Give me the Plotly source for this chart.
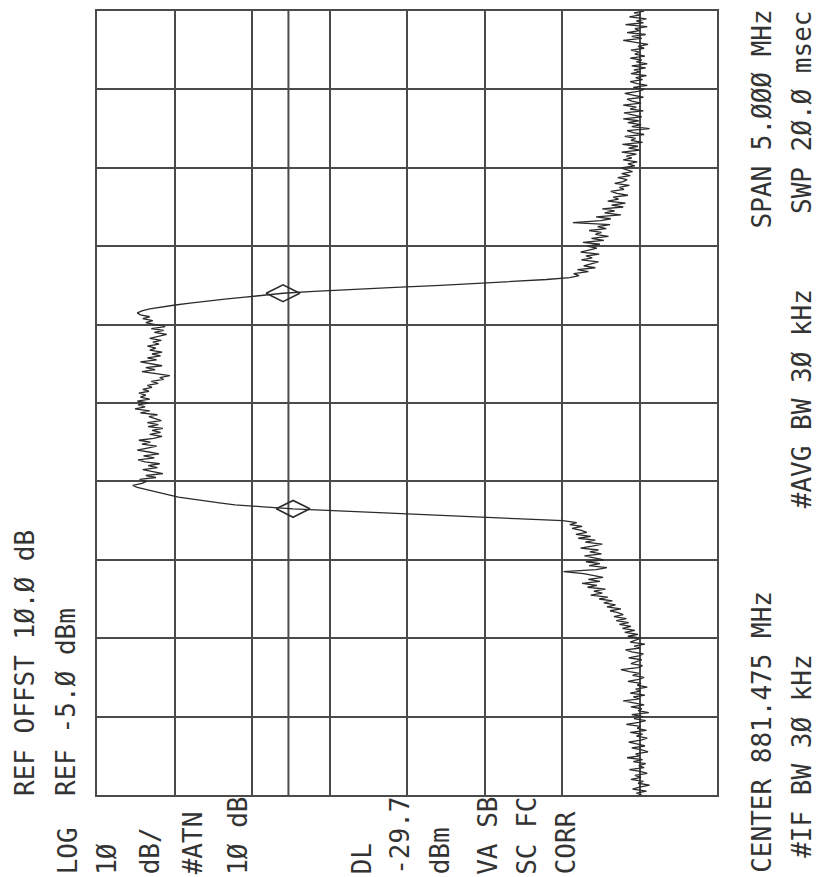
import plotly.graph_objects as go

# Spectrum analyser settings
center_mhz = 881.475
span_mhz = 5.0
ref_dbm = -5.0
db_per_div = 10.0
n_div_amp = 8
display_line_dbm = -29.7

# Trace: 401 amplitude samples (dBm) across the span, low to high frequency
amplitude_dbm = [
    -75.3, -74.6, -75.9, -74.1, -75.0, -76.3, -74.8, -75.5, -73.9, -75.2,
    -74.4, -76.0, -75.1, -73.7, -75.6, -74.9, -75.8, -74.2, -75.4, -73.4,
    -75.0, -74.5, -76.1, -75.3, -74.0, -75.7, -74.8, -73.6, -75.2, -76.0,
    -74.6, -75.4, -73.8, -75.9, -74.7, -75.1, -73.3, -74.9, -75.8, -74.3,
    -75.5, -74.0, -76.2, -74.8, -75.3, -73.9, -75.6, -74.4, -72.9, -75.0,
    -74.2, -75.7, -73.8, -75.1, -74.5, -76.0, -74.7, -75.2, -73.5, -74.9,
    -75.6, -74.1, -75.0, -73.7, -72.6, -74.8, -75.4, -73.9, -74.6, -75.3,
    -73.6, -74.9, -75.5, -74.0, -73.2, -75.1, -74.3, -75.7, -73.8, -74.5,
    -75.2, -73.5, -74.8, -73.1, -74.4, -72.8, -73.9, -72.4, -73.6, -72.0,
    -73.3, -71.7, -72.9, -72.2, -71.2, -72.6, -70.8, -71.9, -70.4, -71.5,
    -69.8, -70.9, -68.7, -70.2, -69.1, -70.6, -68.3, -69.5, -67.6, -69.9,
    -68.4, -70.3, -68.9, -67.8, -65.2, -69.4, -70.8, -68.5, -69.9, -68.1,
    -70.4, -69.0, -67.9, -70.1, -68.6, -69.7, -67.4, -68.9, -70.2, -68.0,
    -69.3, -67.1, -68.7, -66.8, -68.2, -67.5, -66.3, -67.6, -66.0, -66.9,
    -65.1, -59.0, -53.1, -48.0, -42.8, -36.5, -30.3, -26.5, -22.8, -20.8,
    -18.9, -17.1, -15.5, -14.4, -13.4, -12.2, -11.2, -10.2, -9.6, -10.8,
    -11.4, -10.5, -12.6, -11.3, -13.5, -12.0, -10.9, -12.8, -11.6, -13.1,
    -11.2, -10.3, -12.4, -11.0, -13.0, -11.7, -10.2, -11.5, -12.7, -10.8,
    -11.9, -10.4, -12.3, -13.4, -11.8, -13.2, -12.1, -13.5, -11.6, -12.9,
    -11.5, -13.3, -12.4, -11.7, -12.8, -10.6, -11.8, -9.9, -11.2, -10.3,
    -11.6, -10.2, -11.8, -10.6, -11.3, -10.4, -11.7, -10.9, -12.1, -11.5,
    -12.9, -12.0, -13.6, -13.1, -14.4, -12.2, -10.8, -12.5, -11.3, -13.4,
    -12.0, -10.6, -12.7, -11.5, -13.2, -12.1, -13.4, -11.8, -12.6, -11.5,
    -13.0, -12.2, -13.3, -11.8, -12.9, -14.0, -12.4, -13.6, -12.0, -13.8,
    -12.5, -11.3, -12.2, -10.9, -11.8, -10.6, -10.2, -10.8, -11.8, -13.2,
    -15.1, -17.0, -18.9, -21.5, -24.1, -26.5, -29.0, -33.0, -37.6, -43.5,
    -49.3, -54.5, -59.6, -63.0, -66.0, -67.2, -66.5, -68.4, -67.0, -69.3,
    -67.8, -68.6, -69.7, -67.5, -68.9, -68.1, -69.8, -67.4, -68.7, -69.5,
    -68.2, -69.9, -67.7, -70.4, -68.8, -71.0, -69.3, -70.1, -68.5, -70.7,
    -69.6, -71.2, -66.4, -70.0, -71.3, -69.4, -72.6, -70.5, -71.8, -70.2,
    -72.9, -71.4, -73.2, -70.9, -72.3, -71.6, -73.5, -72.1, -71.3, -73.0,
    -72.4, -73.7, -71.8, -72.9, -73.4, -72.2, -73.8, -72.7, -74.1, -73.2,
    -72.6, -74.4, -73.5, -74.7, -72.9, -74.0, -73.3, -74.6, -72.7, -75.1,
    -73.6, -74.8, -72.8, -75.4, -73.9, -74.5, -73.1, -75.6, -74.2, -73.4,
    -76.3, -74.0, -75.2, -73.5, -74.9, -72.9, -75.3, -74.1, -73.0, -75.5,
    -73.8, -74.6, -72.9, -75.2, -74.0, -73.4, -75.5, -74.3, -73.1, -74.8,
    -75.6, -74.2, -76.0, -74.7, -73.8, -75.4, -74.5, -75.9, -73.9, -75.1,
    -74.3, -75.8, -74.0, -76.0, -74.6, -75.3, -73.8, -75.7, -74.4, -75.0,
    -73.9, -75.6, -74.8, -76.1, -74.2, -72.9, -75.3, -74.0, -75.8, -73.4,
    -75.0, -74.4, -76.0, -73.2, -75.5, -74.6, -75.9, -73.7, -75.1, -74.3,
    -75.6,
]

# Marker positions (sample indices) on the channel edges
marker_idx = [146, 256]

f_start = center_mhz - span_mhz / 2
f_stop = center_mhz + span_mhz / 2
n_pts = len(amplitude_dbm)
freq_mhz = [f_start + i * span_mhz / (n_pts - 1) for i in range(n_pts)]
bottom_dbm = ref_dbm - n_div_amp * db_per_div

ink = "#2b2b2b"
grid = "#4a4a4a"
font = dict(family="DejaVu Sans Mono", size=26, color="#333333")

fig = go.Figure()

# Display line
fig.add_shape(type="line", xref="x", yref="paper",
              x0=display_line_dbm, x1=display_line_dbm, y0=0, y1=1,
              line=dict(color=grid, width=2), layer="below")

fig.add_trace(go.Scatter(
    x=amplitude_dbm, y=freq_mhz, mode="lines",
    line=dict(color=ink, width=1.3), hoverinfo="skip", showlegend=False))

fig.add_trace(go.Scatter(
    x=[amplitude_dbm[i] for i in marker_idx],
    y=[freq_mhz[i] for i in marker_idx],
    mode="markers",
    marker=dict(symbol="diamond-wide-open", size=24,
                color=ink, line=dict(color=ink, width=1.6)),
    hoverinfo="skip", showlegend=False))

fig.update_xaxes(range=[ref_dbm, bottom_dbm], tick0=ref_dbm, dtick=db_per_div,
                 showgrid=True, gridcolor=grid, gridwidth=2,
                 showticklabels=False, ticks="", zeroline=False,
                 showline=True, linecolor=grid, linewidth=2, mirror=True)
fig.update_yaxes(range=[f_start, f_stop], tick0=f_start, dtick=span_mhz / 10,
                 showgrid=True, gridcolor=grid, gridwidth=2,
                 showticklabels=False, ticks="", zeroline=False,
                 showline=True, linecolor=grid, linewidth=2, mirror=True)

L, R, T, B = 97, 100, 9, 82
W, H = 817, 877
pw, ph = W - L - R, H - T - B


def px(xp, yp):
    return (xp - L) / pw, (H - B - yp) / ph


def label(text, xc, yp, anchor):
    x, y = px(xc, yp)
    fig.add_annotation(text=text, x=x, y=y, xref="paper", yref="paper",
                       xanchor="center", yanchor=anchor, textangle=-90,
                       showarrow=False, font=font)


# Header (left side)
label("REF OFFST 1Ø.Ø dB", 25, 798, "bottom")
label("REF -5.Ø dBm", 66, 798, "bottom")

# Left annotation block (below graticule)
for txt, xc in [("LOG", 68), ("1Ø", 107), ("dB/", 150), ("#ATN", 193),
                ("1Ø dB", 238), ("DL", 362), ("-29.7", 400), ("dBm", 440),
                ("VA SB", 488), ("SC FC", 527), ("CORR", 566)]:
    label(txt, xc, 877, "bottom")

# Footer (right side)
label("CENTER 881.475 MHz", 762, 875, "bottom")
label("SPAN 5.ØØØ MHz", 762, 6, "top")
label("#IF BW 3Ø kHz", 802, 860, "bottom")
label("#AVG BW 3Ø kHz", 802, 510, "bottom")
label("SWP 2Ø.Ø msec", 802, 6, "top")

fig.update_layout(width=W, height=H, margin=dict(l=L, r=R, t=T, b=B),
                  paper_bgcolor="white", plot_bgcolor="white")

fig.write_html("out.html")
